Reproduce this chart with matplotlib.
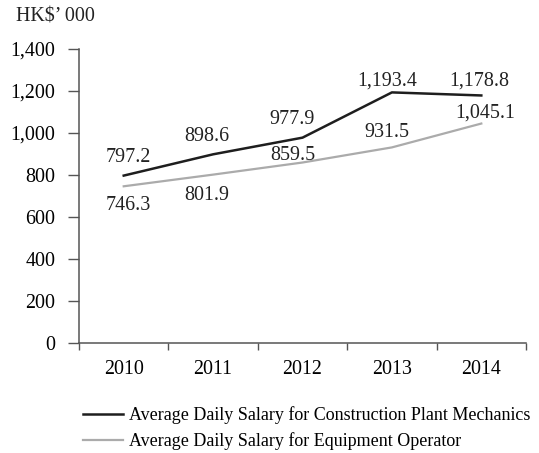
import matplotlib
matplotlib.use("Agg")
import matplotlib.pyplot as plt
import numpy as np

years = ["2010", "2011", "2012", "2013", "2014"]
mechanics = [797.2, 898.6, 977.9, 1193.4, 1178.8]
operator = [746.3, 801.9, 859.5, 931.5, 1045.1]

# hand placed label offsets (pixels), as in the original layout
mech_dx = [5, -6, -10, -4.5, -2.5]
mech_dy = [14, 13.5, 13.5, 7, 9.5]
oper_dx = [5, -6.5, -10, -5.5, 4]
oper_dy = [-10, -11.5, 2.5, 10.5, 5.5]   # negative = below the line

plt.rcParams['font.family'] = ['Liberation Serif', 'DejaVu Serif']
plt.rcParams['font.size'] = 14.4

fig = plt.figure(figsize=(5.39, 4.53), dpi=100)
ax = fig.add_axes([0.1466, 0.2428, 0.8293, 0.649])

x = np.arange(len(years))
ax.plot(x, mechanics, color='#1e1e1e', lw=1.8, label='Average Daily Salary for Construction Plant Mechanics')
ax.plot(x, operator, color='#ababab', lw=1.6, label='Average Daily Salary for Equipment Operator')

for xi, v, dx, dy in zip(x, mechanics, mech_dx, mech_dy):
    ax.annotate(f"{v:,.1f}", (xi, v), xytext=(dx, dy), textcoords='offset pixels',
                ha='center', va='baseline', color='#222222')
for xi, v, dx, dy in zip(x, operator, oper_dx, oper_dy):
    ax.annotate(f"{v:,.1f}", (xi, v), xytext=(dx, dy), textcoords='offset pixels',
                ha='center', va='baseline' if dy > 0 else 'top', color='#222222')

ax.set_xlim(-0.5, len(years) - 0.5)
ax.set_ylim(0, 1400)
ax.set_yticks(np.arange(0, 1401, 200))
ax.set_yticklabels([f"{t:,}" for t in range(0, 1401, 200)])
ax.set_xticks(np.arange(-0.5, len(years), 1))
ax.set_xticklabels([])
ax.set_xticks(x, minor=True)
ax.set_xticklabels(years, minor=True)
ax.tick_params(axis='x', which='minor', length=0, pad=12.5)
ax.tick_params(axis='x', which='major', length=5, width=1, direction='out', color='#555555')
ax.tick_params(axis='y', length=8, width=1, direction='out', color='#555555', pad=9)

for side in ['top', 'right']:
    ax.spines[side].set_visible(False)
for side in ['left', 'bottom']:
    ax.spines[side].set_color('#555555')
    ax.spines[side].set_linewidth(1.1)

fig.text(0.03, 0.9625, "HK$\u2019 000", ha='left', va='center', color='#222222')

fig.legend(loc='center left', bbox_to_anchor=(0.154, 0.054), frameon=False,
           fontsize=13, handlelength=2.2, handletextpad=0.35, labelspacing=0.45,
           borderaxespad=0, borderpad=0)

fig.savefig("out.png", dpi=100)
